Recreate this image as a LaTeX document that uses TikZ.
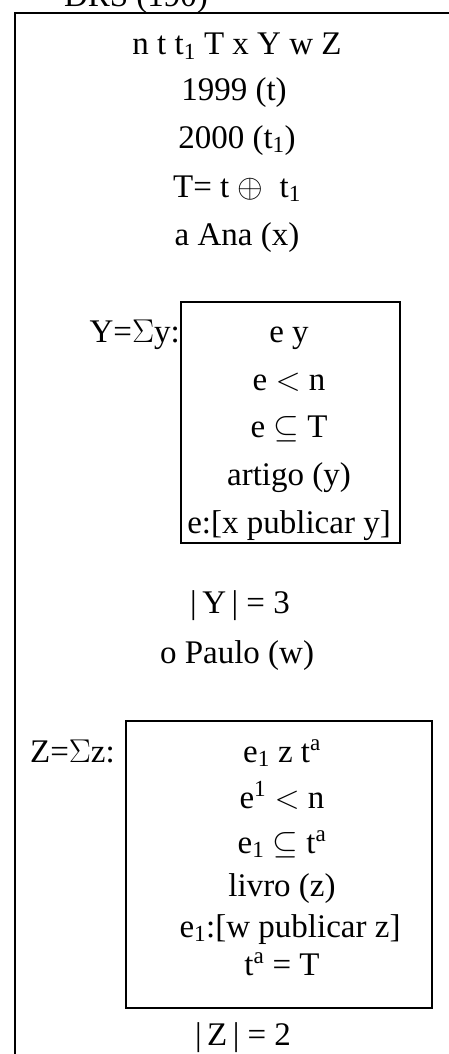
\documentclass[tikz,border=0pt]{standalone}
\usepackage{fix-cm}
\usepackage{fontspec}
\setmainfont{Liberation Serif}
\tikzset{
 drsline/.style={anchor=base,inner sep=0pt,font=\fontsize{33}{40}\selectfont},
 drslabel/.style={drsline,anchor=base east},
 subbox/.style={draw,line width=1.4pt,inner sep=0pt},
 frameline/.style={line width=1.6pt}
}

\begin{document}
\begin{tikzpicture}[x=1pt,y=-1pt]
\useasboundingbox (0,0) rectangle (449,1054);
% outer box, only top and left sides show
\node[drsline] (title) at (136,7) {DRS (190)};
\draw[frameline] (15,1060) -- (15,13) -- (460,13);

\node[drsline] (refs) at (237,55) {n t t\textsubscript{1} T x Y w Z};
\node[drsline] (tdate) at (234,101) {1999 (t)};
\node[drsline] (tonedate) at (237,148) {2000 (t\textsubscript{1})};
\node[drsline] (tsum) at (237,197) {T= t $\oplus$\ \ t\textsubscript{1}};
\node[drsline] (ana) at (237,245) {a Ana (x)};

% Y sub-box
\node[subbox,minimum width=219pt,minimum height=241pt] (ybox) at (290.5,422.5) {};
\node[drslabel] (ylabel) at (180,342) {Y=$\Sigma$y:};
\node[drsline] (y1) at (289,342) {e y};
\node[drsline] (y2) at (289,390) {e $<$ n};
\node[drsline] (y3) at (289,437) {e $\subseteq$ T};
\node[drsline] (y4) at (289,485) {artigo (y)};
\node[drsline] (y5) at (289,533) {e:[x publicar y]};

\node[drsline] (ycard) at (240,613) {\textbar\,Y\,\textbar\ = 3};
\node[drsline] (paulo) at (237,663) {o Paulo (w)};

% Z sub-box
\node[subbox,minimum width=306pt,minimum height=287pt] (zbox) at (279,864.5) {};
\node[drslabel] (zlabel) at (115,762) {Z=$\Sigma$z:};
\node[drsline] (z1) at (282,762) {e\textsubscript{1} z t\textsuperscript{a}};
\node[drsline] (z2) at (282,808) {e\textsuperscript{1} $<$ n};
\node[drsline] (z3) at (282,853) {e\textsubscript{1} $\subseteq$ t\textsuperscript{a}};
\node[drsline] (z4) at (282,896) {livro (z)};
\node[drsline] (z5) at (290,937) {e\textsubscript{1}:[w publicar z]};
\node[drsline] (z6) at (282,975) {t\textsuperscript{a} = T};

\node[drsline] (zcard) at (243,1045) {\textbar\,Z\,\textbar\ = 2};
\end{tikzpicture}
\end{document}
